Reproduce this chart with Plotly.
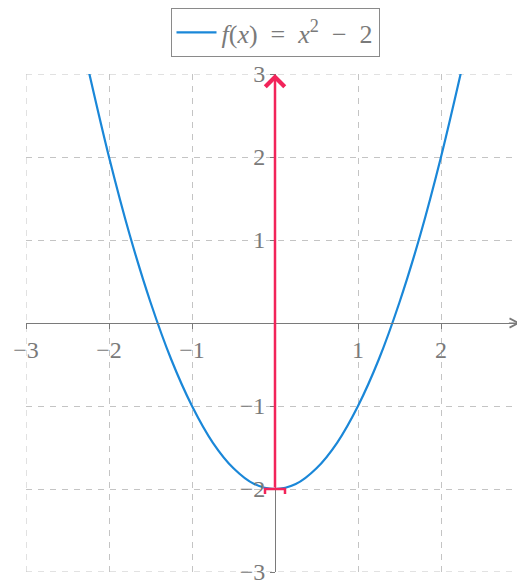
import plotly.graph_objects as go

curve_x = [-2.25, -2.0, -1.75, -1.5, -1.25, -1.0, -0.75, -0.5, -0.25, 0.0,
           0.25, 0.5, 0.75, 1.0, 1.25, 1.5, 1.75, 2.0, 2.25]
curve_y = [3.06, 2.0, 1.06, 0.25, -0.44, -1.0, -1.44, -1.75, -1.94, -2.0,
           -1.94, -1.75, -1.44, -1.0, -0.44, 0.25, 1.06, 2.0, 3.06]

arrow_start = (0, -2)
arrow_end = (0, 3)

tick_vals = [-3, -2, -1, 1, 2, 3]
tick_text = ['\u22123', '\u22122', '\u22121', '1', '2', '3']

blue = '#1a87d8'
red = '#f2245a'
grey = '#7a7a7a'
grid = '#c4c4c4'
serif = '"Times New Roman", "Liberation Serif", "DejaVu Serif", serif'

fig = go.Figure()

fig.add_trace(go.Scatter(
    x=curve_x, y=curve_y,
    mode='lines',
    line=dict(color=blue, width=2.2, shape='spline'),
    name='<i>f</i>(<i>x</i>)\u2002=\u2002<i>x</i><sup>2</sup>\u2002\u2212\u20022'))

# grid lines on the border ticks (plotly leaves these out)
for v in (tick_vals[0], tick_vals[-1]):
    fig.add_vline(x=v, line=dict(color=grid, width=1, dash='6px,6px'), layer='below')
    fig.add_hline(y=v, line=dict(color=grid, width=1, dash='6px,6px'), layer='below')

# red vector with a bar at the tail
fig.add_annotation(
    x=arrow_end[0], y=arrow_end[1], ax=arrow_start[0], ay=arrow_start[1],
    xref='x', yref='y', axref='x', ayref='y',
    showarrow=True, arrowhead=4, arrowsize=1.5, arrowwidth=2.5,
    arrowcolor=red, text='')
fig.add_shape(type='path', xref='x', yref='y',
              xsizemode='pixel', ysizemode='pixel',
              xanchor=arrow_start[0], yanchor=arrow_start[1],
              path='M-10,-5 L-10,0 L10,0 L10,-5',
              line=dict(color=red, width=2.5))

# arrowhead on the x axis
fig.add_annotation(
    x=2.96, y=0, ax=2.8, ay=0,
    xref='x', yref='y', axref='x', ayref='y',
    showarrow=True, arrowhead=5, arrowsize=1.8, arrowwidth=1,
    arrowcolor=grey, text='')

axis_common = dict(
    range=[-3, 3],
    tickvals=tick_vals, ticktext=tick_text,
    showgrid=True, gridcolor=grid, gridwidth=1, griddash='6px,6px',
    zeroline=False,
    showline=True, linecolor=grey, linewidth=1,
    ticks='outside', ticklen=5, tickcolor=grey,
    tickfont=dict(family=serif, size=24, color=grey),
    anchor='free', position=0.5,
    automargin=False,
)

# the page body adds 8px, so the margins are trimmed by that much
fig.update_layout(
    width=525, height=581,
    margin=dict(l=18, r=9, t=66, b=17, autoexpand=False),
    paper_bgcolor='white', plot_bgcolor='white',
    xaxis=dict(**axis_common),
    yaxis=dict(**axis_common),
    showlegend=True,
    legend=dict(
        x=0.5, y=1.1325, xanchor='center', yanchor='top',
        bordercolor='#8a8a8a', borderwidth=1, bgcolor='white',
        font=dict(family=serif, size=26, color=grey),
        itemwidth=40,
    ),
)

fig.write_html('out.html')
